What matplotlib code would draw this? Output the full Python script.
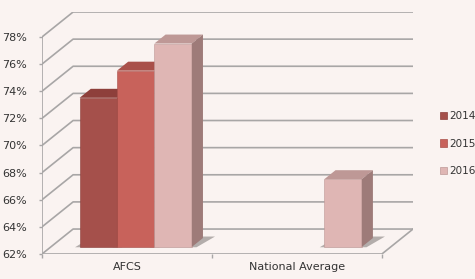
import numpy as np
import matplotlib.pyplot as plt
from matplotlib.patches import Polygon, Patch

# data
categories = ["AFCS", "National Average"]
years = ["2014", "2015", "2016"]
vals_2014 = [73, np.nan]
vals_2015 = [75, np.nan]
vals_2016 = [77, 67]
series = [vals_2014, vals_2015, vals_2016]

front = ["#A5504B", "#C8625B", "#DFB6B4"]
tops = ["#8E3F3B", "#A9504A", "#BE9896"]
sides = ["#7F3A36", "#9A4A45", "#9E7B79"]

YMIN, YMAX = 62, 78
DX, DY = 0.183, 1.84          # full depth offset in data units
D0, D1 = 0.28, 0.64           # bar depth (front / back)
BW = 0.22
GRID = "#A8A6A6"


def P(x, y, d):
    return (x + d * DX, y + d * DY)


fig = plt.figure(figsize=(4.75, 2.79), dpi=100)
fig.patch.set_facecolor("#FAF3F1")
ax = fig.add_axes([42 / 475, 25 / 279, 371 / 475, 242 / 279])
ax.set_facecolor("none")
ax.set_xlim(0, 2 + DX)
ax.set_ylim(YMIN, YMAX + DY)
for s in ax.spines.values():
    s.set_visible(False)

# walls / gridlines
for v in range(YMIN, YMAX + 1, 2):
    ax.plot(*zip(P(0, v, 0), P(0, v, 1), P(2, v, 1)), color=GRID, lw=1.2, zorder=1)
ax.plot([0, 0], [YMIN, YMAX], color=GRID, lw=1.2, zorder=1)
ax.plot(*zip(P(0, YMIN, 0), P(2, YMIN, 0), P(2, YMIN, 1)), color=GRID, lw=1.2, zorder=1)

# bars
for i, vals in enumerate(series):
    for c, v in enumerate(vals):
        if np.isnan(v):
            continue
        left = c + 0.5 - 1.5 * BW + i * BW
        right = left + BW
        z = 3 + i
        shadow = [P(left - 0.025, YMIN, D0 - 0.01), P(right + 0.03, YMIN, D0 - 0.01),
                  P(right + 0.06, YMIN, D1 + 0.06), P(left, YMIN, D1 + 0.06)]
        ax.add_patch(Polygon(shadow, closed=True, fc="#5E5856", ec="none", alpha=0.45, zorder=2))
        x0, y0 = P(left, YMIN, D0)
        ax.bar(x0, v - YMIN, width=BW, bottom=y0, align="edge", color=front[i],
               edgecolor=tops[i], lw=0.4, zorder=z)
        top = [P(left, v, D0), P(right, v, D0), P(right, v, D1), P(left, v, D1)]
        ax.add_patch(Polygon(top, closed=True, fc=tops[i], ec="none", zorder=z))
        side = [P(right, YMIN, D0), P(right, v, D0), P(right, v, D1), P(right, YMIN, D1)]
        ax.add_patch(Polygon(side, closed=True, fc=sides[i], ec="none", zorder=z))

# axes ticks / labels
ax.set_yticks(range(YMIN, YMAX + 1, 2))
ax.set_yticklabels([f"{v}%" for v in range(YMIN, YMAX + 1, 2)])
ax.tick_params(axis="y", length=2, width=1, color=GRID, pad=9, labelsize=8,
               labelcolor="#333333")
ax.set_xticks([0.5, 1.5])
ax.set_xticklabels(categories)
ax.set_xticks([0, 1, 2], minor=True)
ax.tick_params(axis="x", which="major", length=0, pad=6, labelsize=8, labelcolor="#333333")
ax.tick_params(axis="x", which="minor", length=3, width=1, color=GRID)

handles = [Patch(fc=front[i], ec=tops[i], lw=0.5, label=years[i]) for i in range(3)]
fig.legend(handles=handles, loc="upper left", bbox_to_anchor=(440 / 475, 1 - 111 / 279),
           frameon=False, fontsize=7.5, handlelength=0.7, handleheight=0.7,
           handletextpad=0.2, labelspacing=1.7, borderpad=0, borderaxespad=0,
           labelcolor="#333333")

fig.savefig("out.png", dpi=100, facecolor=fig.get_facecolor())
